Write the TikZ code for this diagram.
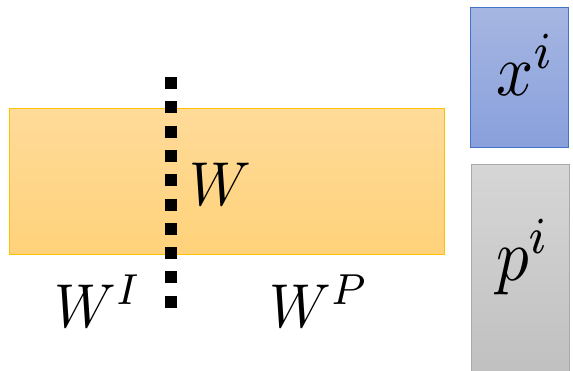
\documentclass[tikz,border=0pt]{standalone}
\usepackage{amsmath}
\usepackage{graphicx}
\usepackage{tikz}
\usepackage{xcolor}

\definecolor{goldtop}{RGB}{255,219,153}
\definecolor{goldbot}{RGB}{255,210,122}
\definecolor{goldline}{RGB}{255,192,0}
\definecolor{bluetop}{RGB}{166,182,226}
\definecolor{bluebot}{RGB}{137,160,220}
\definecolor{blueline}{RGB}{68,114,196}
\definecolor{graytop}{RGB}{214,214,214}
\definecolor{graybot}{RGB}{191,191,191}
\definecolor{grayline}{RGB}{170,170,170}

\newcommand{\biglab}[1]{\scalebox{5.7}[6.2]{$#1$}}
\newcommand{\boxlab}[1]{\scalebox{6.5}[7.4]{$#1$}}

\tikzset{
    weightbox/.style={rectangle, top color=goldtop, bottom color=goldbot, draw=goldline, line width=1pt,
        minimum width=435pt, minimum height=146pt, inner sep=0pt},
    inputbox/.style={rectangle, top color=bluetop, bottom color=bluebot, draw=blueline, line width=1pt,
        minimum width=98pt, minimum height=140pt, inner sep=0pt},
    promptbox/.style={rectangle, top color=graytop, bottom color=graybot, draw=grayline, line width=1pt,
        minimum width=98pt, minimum height=220pt, inner sep=0pt},
    labelnode/.style={inner sep=0pt, anchor=base west},
}

\begin{document}
\begin{tikzpicture}[x=1pt,y=-1pt]

        \useasboundingbox (0,0) rectangle (573,370);

        % Draw the weight matrix and the two input columns
        \node[weightbox] (W) at (226.5,181.5) {};
        \node[inputbox] (x) at (519.5,77.5) {};
        \node[promptbox] (p) at (520,274) {};

        % Draw the split line through the weights
        \coordinate (splittop) at (171,77);
        \coordinate (splitbot) at (171,308);
        \draw[line width=12pt, dash pattern=on 12pt off 12.3pt] (splittop) -- (splitbot);

        % Labels
        \node[labelnode] (Wlabel) at (189,205) {\biglab{W}};
        \node[labelnode] (WI) at (54,327) {\biglab{W^I}};
        \node[labelnode] (WP) at (269,327) {\biglab{W^P}};
        \node[labelnode] (xlabel) at (496,95) {\boxlab{x^i}};
        \node[labelnode] (plabel) at (496,280) {\boxlab{p^i}};

    \end{tikzpicture}
\end{document}
